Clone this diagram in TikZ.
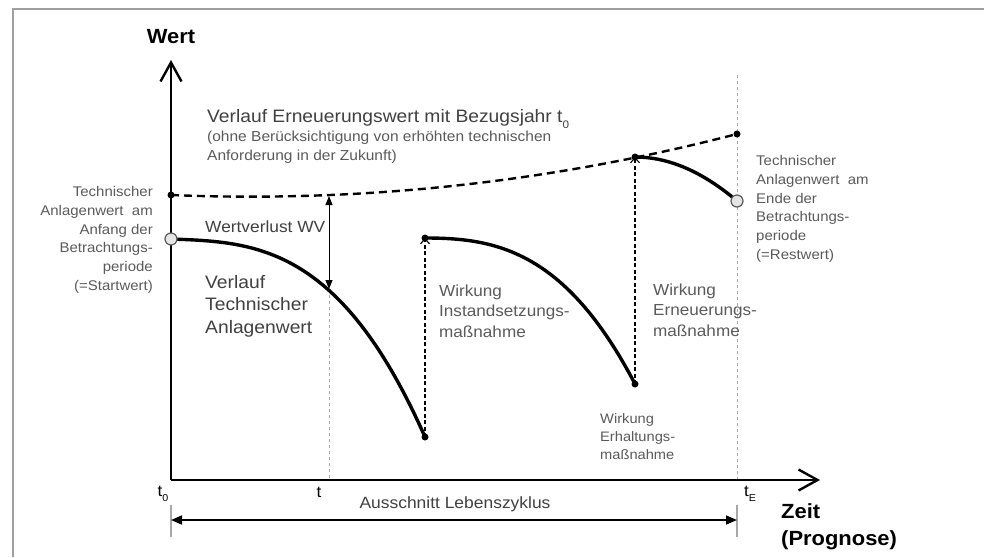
\documentclass[tikz,border=0pt]{standalone}
\usepackage{fontspec}
\setmainfont[FakeStretch=1.07]{Liberation Sans}
\usetikzlibrary{arrows.meta}
\newcommand{\lsub}[2]{\raisebox{-0.3em}{\fontsize{#1}{#1}\selectfont #2}}
\definecolor{framegray}{HTML}{A0A0A0}
\definecolor{labgray}{HTML}{404040}
\definecolor{smallgray}{HTML}{5A5A5A}
\definecolor{guidegray}{HTML}{A8A8A8}
\tikzset{
  axisline/.style={line width=2.4pt, -{Straight Barb[length=19pt,width=21pt]}},
  renewline/.style={line width=2.4pt, dash pattern=on 8pt off 5pt},
  valueline/.style={line width=3.4pt},
  jumparrow/.style={line width=1.1pt, dash pattern=on 4pt off 2.5pt, -{Straight Barb[length=5pt,width=9pt]}},
  guideline/.style={guidegray, line width=0.9pt, dash pattern=on 3pt off 3pt},
  tickline/.style={guidegray, line width=1.2pt},
  wvarrow/.style={line width=1pt, {Triangle[length=9pt,width=7pt]}-{Triangle[length=9pt,width=7pt]}},
  dimarrow/.style={line width=1.6pt, {Triangle[length=11pt,width=9pt]}-{Triangle[length=11pt,width=9pt]}},
  dot/.style={circle, fill=black, inner sep=0pt, minimum size=7pt},
  ocirc/.style={circle, draw=black!65, fill=black!10, line width=1.2pt, inner sep=0pt, minimum size=12pt},
  bigbold/.style={font=\fontsize{20.5}{27}\selectfont\bfseries, text=black, inner sep=0pt},
  mainlab/.style={font=\fontsize{18}{22.5}\selectfont, text=labgray, inner sep=0pt, align=left},
  midlab/.style={font=\fontsize{16}{20.5}\selectfont, text=smallgray, inner sep=0pt, align=left},
  smalllab/.style={font=\fontsize{14}{18.7}\selectfont, text=smallgray, inner sep=0pt},
  tlab/.style={font=\fontsize{16}{18}\selectfont, text=black, inner sep=0pt},
}
\begin{document}
\begin{tikzpicture}[x=1pt,y=-1pt]
\useasboundingbox (0,0) rectangle (984,557);
% frame
\draw[framegray, line width=2.5pt] (13,557) -- (13,9) -- (984,9);

% coordinates
\coordinate (O) at (171,480);
\coordinate (Ytop) at (171,60);
\coordinate (Xtip) at (820,480);
\coordinate (A0) at (171,195);
\coordinate (AE) at (737,134);
\coordinate (S0) at (171,239);
\coordinate (Ttop) at (329,196);
\coordinate (Tcur) at (329,289);
\coordinate (Tbot) at (329,480);
\coordinate (P1) at (425,437);
\coordinate (P2) at (425,238);
\coordinate (P3) at (635,384);
\coordinate (P4) at (635,157);
\coordinate (SE) at (737,201);
\coordinate (Etop) at (737,75);
\coordinate (Ebot) at (737,480);
\coordinate (L0a) at (171,505);
\coordinate (L0b) at (171,537);
\coordinate (LEa) at (737,505);
\coordinate (LEb) at (737,537);
\coordinate (D0) at (171,520);
\coordinate (DE) at (737,520);

% guides
\draw[guideline] (Tcur) -- (Tbot);
\draw[guideline] (Etop) -- (Ebot);
\draw[tickline] (L0a) -- (L0b);
\draw[tickline] (LEa) -- (LEb);

% axes
\draw[axisline] (O) -- (Ytop);
\draw[axisline] (O) -- (Xtip);

% renewal value (dashed)
\draw[renewline] (A0) .. controls (360.7,202.9) and (549.3,182.6) .. (AE);

% technical value curves
\draw[valueline] (S0) .. controls (255,242) and (340,245) .. (P1);
\draw[valueline] (P2) .. controls (495,238) and (565,250) .. (P3);
\draw[valueline] (P4) .. controls (669,157) and (703,172) .. (SE);

% jumps
\draw[jumparrow] (P1) -- (P2);
\draw[jumparrow] (P3) -- (P4);

% value loss
\draw[wvarrow] (Ttop) -- (Tcur);

% dimension
\draw[dimarrow] (D0) -- (DE);

% dots
\node[dot] (dA0) at (A0) {};
\node[dot] (dAE) at (AE) {};
\node[dot] (dP1) at (P1) {};
\node[dot] (dP2) at (P2) {};
\node[dot] (dP3) at (P3) {};
\node[dot] (dP4) at (P4) {};
\node[ocirc] (cS0) at (S0) {};
\node[ocirc] (cSE) at (SE) {};

% labels
\node[bigbold] (wert) at (171,37) {Wert};
\node[bigbold, anchor=west, align=left] (zeit) at (781,527) {Zeit\\(Prognose)};
\node[mainlab, anchor=west] (erneu) at (207,119) {Verlauf Erneuerungswert mit Bezugsjahr t\lsub{11}{0}};
\node[smalllab, font=\fontsize{14.5}{19}\selectfont, anchor=west, align=left] (ohne) at (207,147.5) {(ohne Berücksichtigung von erhöhten technischen\\Anforderung in der Zukunft)};
\node[smalllab, anchor=east, align=right] (start) at (153,240) {Technischer\\Anlagenwert~ am\\Anfang der\\Betrachtungs-\\periode\\(=Startwert)};
\node[smalllab, anchor=west, align=left] (rest) at (756,209) {Technischer\\Anlagenwert~ am\\Ende der\\Betrachtungs-\\periode\\(=Restwert)};
\node[mainlab, font=\fontsize{16.2}{20}\selectfont, anchor=west] (wv) at (205,227) {Wertverlust WV};
\node[mainlab, anchor=west] (vta) at (205,306) {Verlauf\\Technischer\\Anlagenwert};
\node[midlab, anchor=west] (inst) at (439,311) {Wirkung\\Instandsetzungs-\\maßnahme};
\node[midlab, anchor=west] (ern) at (653,310) {Wirkung\\Erneuerungs-\\maßnahme};
\node[smalllab, font=\fontsize{13.7}{18}\selectfont, anchor=west, align=left] (erh) at (600,437) {Wirkung\\Erhaltungs-\\maßnahme};
\node[tlab] (t0) at (163,494) {t\lsub{10}{0}};
\node[tlab] (tt) at (319,492) {t};
\node[tlab] (tE) at (750,494) {t\lsub{10}{E}};
\node[midlab, font=\fontsize{16.3}{20}\selectfont, text=labgray] (aus) at (455,504) {Ausschnitt Lebenszyklus};
\end{tikzpicture}
\end{document}
